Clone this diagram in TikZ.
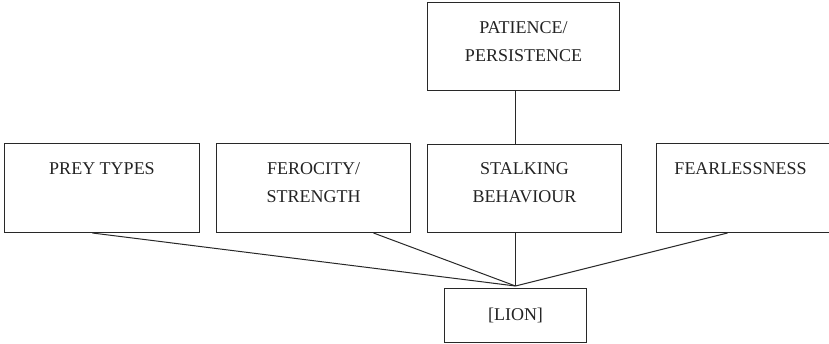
\documentclass[tikz,border=0pt]{standalone}
\usepackage{fontspec}
\setmainfont{Liberation Serif}

\begin{document}
\begin{tikzpicture}[x=1pt,y=-1pt,
		box/.style={draw=custcol_line, line width=1pt, rectangle, anchor=north west, inner sep=0, minimum width=#1, minimum height=89},
		lbl/.style={anchor=north, yshift=-19pt, inner sep=0, align=center, text=custcol_text, font=\fontsize{18}{28}\selectfont},
		wire/.style={draw=custcol_line, line width=1pt}]
				\definecolor{custcol_line}{RGB}{40, 40, 40}
				\definecolor{custcol_text}{RGB}{35, 35, 35}
				\useasboundingbox (0,0) rectangle (829,343);
				% top box
				\node[box=192, minimum height=88] (patience) at (427,2) {};
				\node[lbl] at (patience.north) {PATIENCE/\\PERSISTENCE};
				% row of traits
				\node[box=195] (prey) at (4,143) {};
				\node[lbl] at (prey.north) {PREY TYPES};
				\node[box=194] (ferocity) at (216,143) {};
				\node[lbl] at (ferocity.north) {FEROCITY/\\STRENGTH};
				\node[box=194, minimum height=88] (stalking) at (427,144) {};
				\node[lbl, yshift=1pt] at (stalking.north) {STALKING\\BEHAVIOUR};
				\node[box=180] (fearless) at (656,143) {};
				\node[lbl, xshift=-6pt] at (fearless.north) {FEARLESSNESS};
				% animal
				\node[box=142, minimum height=54, text=custcol_text, font=\fontsize{18}{28}\selectfont] (lion) at (444,288) {[LION]};
				\draw[wire] ([xshift=-8]patience.south) -- ([xshift=-9]stalking.north);
				\draw[wire] ([xshift=-9.5]prey.south) -- ([yshift=2]lion.north);
				\draw[wire] ([xshift=60]ferocity.south) -- ([yshift=2]lion.north);
				\draw[wire] ([xshift=-9]stalking.south) -- ([yshift=2]lion.north);
				\draw[wire] ([xshift=-19]fearless.south) -- ([yshift=2]lion.north);
			\end{tikzpicture}
\end{document}
